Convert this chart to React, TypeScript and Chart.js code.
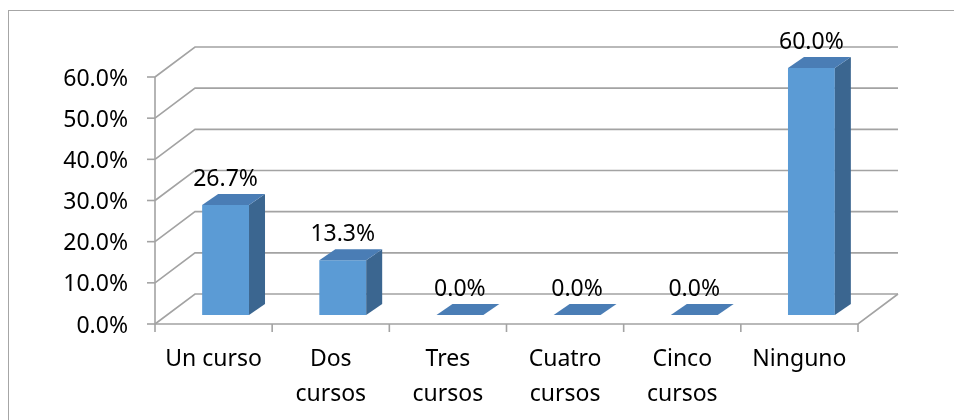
import React, { useEffect, useRef } from "react";
import { Chart, registerables } from "chart.js";

Chart.register(...registerables);

const categories: string[][] = [
  ["Un curso"],
  ["Dos", "cursos"],
  ["Tres", "cursos"],
  ["Cuatro", "cursos"],
  ["Cinco", "cursos"],
  ["Ninguno"],
];
const values: number[] = [26.7, 13.3, 0, 0, 0, 60];
const yTicks: number[] = [0, 10, 20, 30, 40, 50, 60];
const yTickLabels: string[] = ["0.0%", "10.0%", "20.0%", "30.0%", "40.0%", "50.0%", "60.0%"];
const valueLabels: string[] = ["26.7%", "13.3%", "0.0%", "0.0%", "0.0%", "60.0%"];

const FRONT = { dx: -12, dy: 9 };
const BACK = { dx: 28, dy: -21 };
const BAR_D = { dx: 16, dy: -11 };
const GRID = "#a3a3a3";
const FONT = "23px 'Noto Sans'";
const TEXT = "#000000";
const C_FRONT = "#5b9bd5";
const C_TOP = "#4a7db5";
const C_SIDE = "#3b6690";

const threeD = {
  id: "threeD",
  beforeDatasetsDraw(chart: any) {
    const { ctx, chartArea: a, scales } = chart;
    const x = scales.x;
    const y = scales.y;
    ctx.save();
    ctx.strokeStyle = GRID;
    ctx.lineWidth = 1.6;
    const fl = a.left + FRONT.dx;
    const fr = a.right + FRONT.dx;
    const bl = a.left + BACK.dx;
    const br = a.right + BACK.dx;
    yTicks.forEach((v, i) => {
      const py = y.getPixelForValue(v);
      const fy = py + FRONT.dy;
      const by = py + BACK.dy;
      ctx.beginPath();
      ctx.moveTo(fl, fy);
      ctx.lineTo(bl, by);
      ctx.lineTo(br, by);
      ctx.stroke();
      ctx.beginPath();
      ctx.moveTo(fl - 8, fy);
      ctx.lineTo(fl, fy);
      ctx.stroke();
      ctx.fillStyle = TEXT;
      ctx.font = FONT;
      ctx.textAlign = "right";
      ctx.textBaseline = "middle";
      ctx.fillText(yTickLabels[i], fl - 27, fy + 2);
    });
    const fTop = y.getPixelForValue(yTicks[yTicks.length - 1]) + FRONT.dy;
    const fBot = y.getPixelForValue(0) + FRONT.dy;
    const bBot = y.getPixelForValue(0) + BACK.dy;
    ctx.beginPath();
    ctx.moveTo(fl, fTop);
    ctx.lineTo(fl, fBot);
    ctx.lineTo(fr, fBot);
    ctx.lineTo(br, bBot);
    ctx.stroke();
    const half = (x.getPixelForValue(1) - x.getPixelForValue(0)) / 2;
    for (let i = 0; i <= categories.length; i++) {
      const px = x.getPixelForValue(Math.min(i, categories.length - 1)) + (i === categories.length ? half : -half) + FRONT.dx;
      ctx.beginPath();
      ctx.moveTo(px, fBot);
      ctx.lineTo(px, fBot + 8);
      ctx.stroke();
    }
    ctx.fillStyle = TEXT;
    ctx.font = FONT;
    ctx.textAlign = "center";
    ctx.textBaseline = "middle";
    categories.forEach((lines, i) => {
      const cx = x.getPixelForValue(i) + FRONT.dx;
      lines.forEach((t, j) => {
        ctx.fillText(t, cx, fBot + 35 + j * 35);
      });
    });
    ctx.restore();
  },
  afterDatasetsDraw(chart: any) {
    const { ctx } = chart;
    const meta = chart.getDatasetMeta(0);
    ctx.save();
    meta.data.forEach((bar: any, i: number) => {
      const p = bar.getProps(["x", "y", "base", "width"], true);
      const l = p.x - p.width / 2;
      const r = p.x + p.width / 2;
      const top = p.y;
      const base = p.base;
      ctx.fillStyle = C_SIDE;
      ctx.beginPath();
      ctx.moveTo(r, top);
      ctx.lineTo(r + BAR_D.dx, top + BAR_D.dy);
      ctx.lineTo(r + BAR_D.dx, base + BAR_D.dy);
      ctx.lineTo(r, base);
      ctx.closePath();
      ctx.fill();
      ctx.fillStyle = C_TOP;
      ctx.beginPath();
      ctx.moveTo(l, top);
      ctx.lineTo(r, top);
      ctx.lineTo(r + BAR_D.dx, top + BAR_D.dy);
      ctx.lineTo(l + BAR_D.dx, top + BAR_D.dy);
      ctx.closePath();
      ctx.fill();
      ctx.fillStyle = TEXT;
      ctx.font = FONT;
      ctx.textAlign = "center";
      ctx.textBaseline = "middle";
      ctx.fillText(valueLabels[i], p.x, top + BAR_D.dy - 15);
    });
    ctx.restore();
  },
};

export default function App() {
  const ref = useRef<HTMLCanvasElement | null>(null);
  useEffect(() => {
    if (!ref.current) return;
    const chart = new Chart(ref.current, {
      type: "bar",
      data: {
        labels: categories.map((c) => c.join(" ")),
        datasets: [
          {
            data: values,
            backgroundColor: C_FRONT,
            borderWidth: 0,
            categoryPercentage: 1,
            barPercentage: 0.4,
          },
        ],
      },
      options: {
        animation: false,
        responsive: false,
        layout: { padding: { left: 167, right: 84, top: 68, bottom: 105 } },
        scales: {
          x: { display: false, offset: true },
          y: { display: false, min: 0, max: 60 },
        },
        plugins: { legend: { display: false }, tooltip: { enabled: false } },
      },
      plugins: [threeD],
    });
    return () => chart.destroy();
  }, []);
  return (
    <div style={{ position: "fixed", left: 0, top: 0, width: 954, height: 420, overflow: "hidden", background: "#fff" }}>
      <div
        style={{
          position: "absolute",
          left: 8,
          top: 10,
          width: 1000,
          height: 500,
          border: "1.5px solid #a6a6a6",
        }}
      />
      <canvas ref={ref} width={954} height={420} style={{ position: "absolute", left: 0, top: 0 }} />
    </div>
  );
}
